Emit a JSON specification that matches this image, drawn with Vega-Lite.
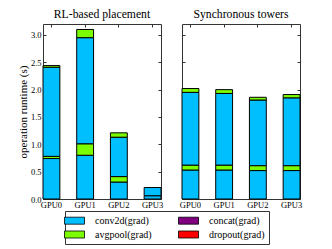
{
  "$schema": "https://vega.github.io/schema/vega-lite/v6.json",
  "padding": {"left": 16, "top": 8, "right": 5, "bottom": 5},
  "data": {"values": [
    {"panel": "RL", "gpu": "GPU0", "op": "conv2d(grad)", "seg": 1, "value": 0.74},
    {"panel": "RL", "gpu": "GPU0", "op": "avgpool(grad)", "seg": 2, "value": 0.04},
    {"panel": "RL", "gpu": "GPU0", "op": "conv2d(grad)", "seg": 3, "value": 1.63},
    {"panel": "RL", "gpu": "GPU0", "op": "avgpool(grad)", "seg": 4, "value": 0.03},
    {"panel": "RL", "gpu": "GPU1", "op": "conv2d(grad)", "seg": 1, "value": 0.80},
    {"panel": "RL", "gpu": "GPU1", "op": "avgpool(grad)", "seg": 2, "value": 0.21},
    {"panel": "RL", "gpu": "GPU1", "op": "conv2d(grad)", "seg": 3, "value": 1.94},
    {"panel": "RL", "gpu": "GPU1", "op": "avgpool(grad)", "seg": 4, "value": 0.15},
    {"panel": "RL", "gpu": "GPU2", "op": "conv2d(grad)", "seg": 1, "value": 0.31},
    {"panel": "RL", "gpu": "GPU2", "op": "avgpool(grad)", "seg": 2, "value": 0.10},
    {"panel": "RL", "gpu": "GPU2", "op": "conv2d(grad)", "seg": 3, "value": 0.72},
    {"panel": "RL", "gpu": "GPU2", "op": "avgpool(grad)", "seg": 4, "value": 0.08},
    {"panel": "RL", "gpu": "GPU3", "op": "conv2d(grad)", "seg": 1, "value": 0.06},
    {"panel": "RL", "gpu": "GPU3", "op": "conv2d(grad)", "seg": 3, "value": 0.15},
    {"panel": "Sync", "gpu": "GPU0", "op": "conv2d(grad)", "seg": 1, "value": 0.53},
    {"panel": "Sync", "gpu": "GPU0", "op": "avgpool(grad)", "seg": 2, "value": 0.09},
    {"panel": "Sync", "gpu": "GPU0", "op": "conv2d(grad)", "seg": 3, "value": 1.33},
    {"panel": "Sync", "gpu": "GPU0", "op": "avgpool(grad)", "seg": 4, "value": 0.07},
    {"panel": "Sync", "gpu": "GPU1", "op": "conv2d(grad)", "seg": 1, "value": 0.53},
    {"panel": "Sync", "gpu": "GPU1", "op": "avgpool(grad)", "seg": 2, "value": 0.09},
    {"panel": "Sync", "gpu": "GPU1", "op": "conv2d(grad)", "seg": 3, "value": 1.31},
    {"panel": "Sync", "gpu": "GPU1", "op": "avgpool(grad)", "seg": 4, "value": 0.07},
    {"panel": "Sync", "gpu": "GPU2", "op": "conv2d(grad)", "seg": 1, "value": 0.52},
    {"panel": "Sync", "gpu": "GPU2", "op": "avgpool(grad)", "seg": 2, "value": 0.09},
    {"panel": "Sync", "gpu": "GPU2", "op": "conv2d(grad)", "seg": 3, "value": 1.20},
    {"panel": "Sync", "gpu": "GPU2", "op": "avgpool(grad)", "seg": 4, "value": 0.05},
    {"panel": "Sync", "gpu": "GPU3", "op": "conv2d(grad)", "seg": 1, "value": 0.52},
    {"panel": "Sync", "gpu": "GPU3", "op": "avgpool(grad)", "seg": 2, "value": 0.09},
    {"panel": "Sync", "gpu": "GPU3", "op": "conv2d(grad)", "seg": 3, "value": 1.24},
    {"panel": "Sync", "gpu": "GPU3", "op": "avgpool(grad)", "seg": 4, "value": 0.06}
  ]},
  "spacing": 14,
  "hconcat": [
    {
      "title": {"text": "RL-based placement", "font": "Liberation Serif", "fontWeight": "normal", "fontSize": 11.7},
      "width": 118, "height": 175,
      "transform": [{"filter": "datum.panel === 'RL'"}],
      "layer": [
        {
          "mark": {"type": "bar", "stroke": "black", "strokeWidth": 1},
          "encoding": {
            "x": {"field": "gpu", "type": "nominal", "sort": ["GPU0", "GPU1", "GPU2", "GPU3"],
                  "scale": {"paddingInner": 0.5, "paddingOuter": 0},
                  "axis": {"title": null, "labelAngle": 0, "tickSize": -3, "labelPadding": 4}},
            "y": {"field": "value", "type": "quantitative", "stack": "zero",
                  "scale": {"domain": [0, 3.2], "nice": false},
                  "axis": {"title": "operation runtime (s)", "values": [0, 0.5, 1, 1.5, 2, 2.5, 3], "format": ".1f", "tickSize": -3, "labelPadding": 5, "titlePadding": 2}},
            "color": {"field": "op", "type": "nominal",
                      "scale": {"domain": ["conv2d(grad)", "avgpool(grad)", "concat(grad)", "dropout(grad)"], "range": ["#00BFFF", "#7CFC00", "#800080", "#FF0000"]},
                      "legend": {"title": null, "orient": "none", "legendX": 22, "legendY": 187, "columns": 2}},
            "order": {"field": "seg", "type": "quantitative"}
          }
        },
        {
          "mark": {"type": "bar", "opacity": 0},
          "encoding": {
            "x": {"field": "gpu", "type": "nominal", "sort": ["GPU0", "GPU1", "GPU2", "GPU3"],
                  "axis": {"orient": "top", "title": null, "labels": false, "tickSize": -3}},
            "y": {"field": "value", "type": "quantitative", "stack": "zero",
                  "axis": {"orient": "right", "title": null, "labels": false, "values": [0, 0.5, 1, 1.5, 2, 2.5, 3], "tickSize": -3, "labelPadding": 0}},
            "order": {"field": "seg", "type": "quantitative"}
          }
        }
      ],
      "resolve": {"axis": {"x": "independent", "y": "independent"}}
    },
    {
      "title": {"text": "Synchronous towers", "font": "Liberation Serif", "fontWeight": "normal", "fontSize": 11.7},
      "width": 118, "height": 175,
      "transform": [{"filter": "datum.panel === 'Sync'"}],
      "layer": [
        {
          "mark": {"type": "bar", "stroke": "black", "strokeWidth": 1},
          "encoding": {
            "x": {"field": "gpu", "type": "nominal", "sort": ["GPU0", "GPU1", "GPU2", "GPU3"],
                  "scale": {"paddingInner": 0.5, "paddingOuter": 0},
                  "axis": {"title": null, "labelAngle": 0, "tickSize": -3, "labelPadding": 4}},
            "y": {"field": "value", "type": "quantitative", "stack": "zero",
                  "scale": {"domain": [0, 3.2], "nice": false},
                  "axis": {"title": null, "labels": false, "values": [0, 0.5, 1, 1.5, 2, 2.5, 3], "tickSize": -3, "labelPadding": 0}},
            "color": {"field": "op", "type": "nominal",
                      "scale": {"domain": ["conv2d(grad)", "avgpool(grad)", "concat(grad)", "dropout(grad)"], "range": ["#00BFFF", "#7CFC00", "#800080", "#FF0000"]},
                      "legend": {"title": null, "orient": "none", "legendX": 22, "legendY": 187, "columns": 2}},
            "order": {"field": "seg", "type": "quantitative"}
          }
        },
        {
          "mark": {"type": "bar", "opacity": 0},
          "encoding": {
            "x": {"field": "gpu", "type": "nominal", "sort": ["GPU0", "GPU1", "GPU2", "GPU3"],
                  "axis": {"orient": "top", "title": null, "labels": false, "tickSize": -3}},
            "y": {"field": "value", "type": "quantitative", "stack": "zero",
                  "axis": {"orient": "right", "title": null, "labels": false, "values": [0, 0.5, 1, 1.5, 2, 2.5, 3], "tickSize": -3, "labelPadding": 0}},
            "order": {"field": "seg", "type": "quantitative"}
          }
        }
      ],
      "resolve": {"axis": {"x": "independent", "y": "independent"}}
    }
  ],
  "config": {
    "font": "Liberation Serif",
    "view": {"stroke": "#333", "strokeWidth": 1},
    "axis": {"domain": false, "grid": false, "tickColor": "#333", "labelFont": "Liberation Serif", "labelFontSize": 8.5, "labelColor": "black", "titleFont": "Liberation Serif", "titleFontSize": 11, "titleFontWeight": "normal", "titleColor": "black"},
    "title": {"font": "Liberation Serif", "fontSize": 11.7, "fontWeight": "normal", "color": "black", "offset": 3},
    "legend": {"labelFont": "Liberation Serif", "labelFontSize": 10, "labelColor": "black", "symbolType": "M-2,-0.7H2V0.7H-2Z", "symbolSize": 100, "symbolStrokeColor": "black", "symbolStrokeWidth": 0.8, "symbolOpacity": 1, "labelOffset": 15, "columnPadding": 24, "rowPadding": 3, "strokeColor": "#333", "padding": 4}
  }
}
